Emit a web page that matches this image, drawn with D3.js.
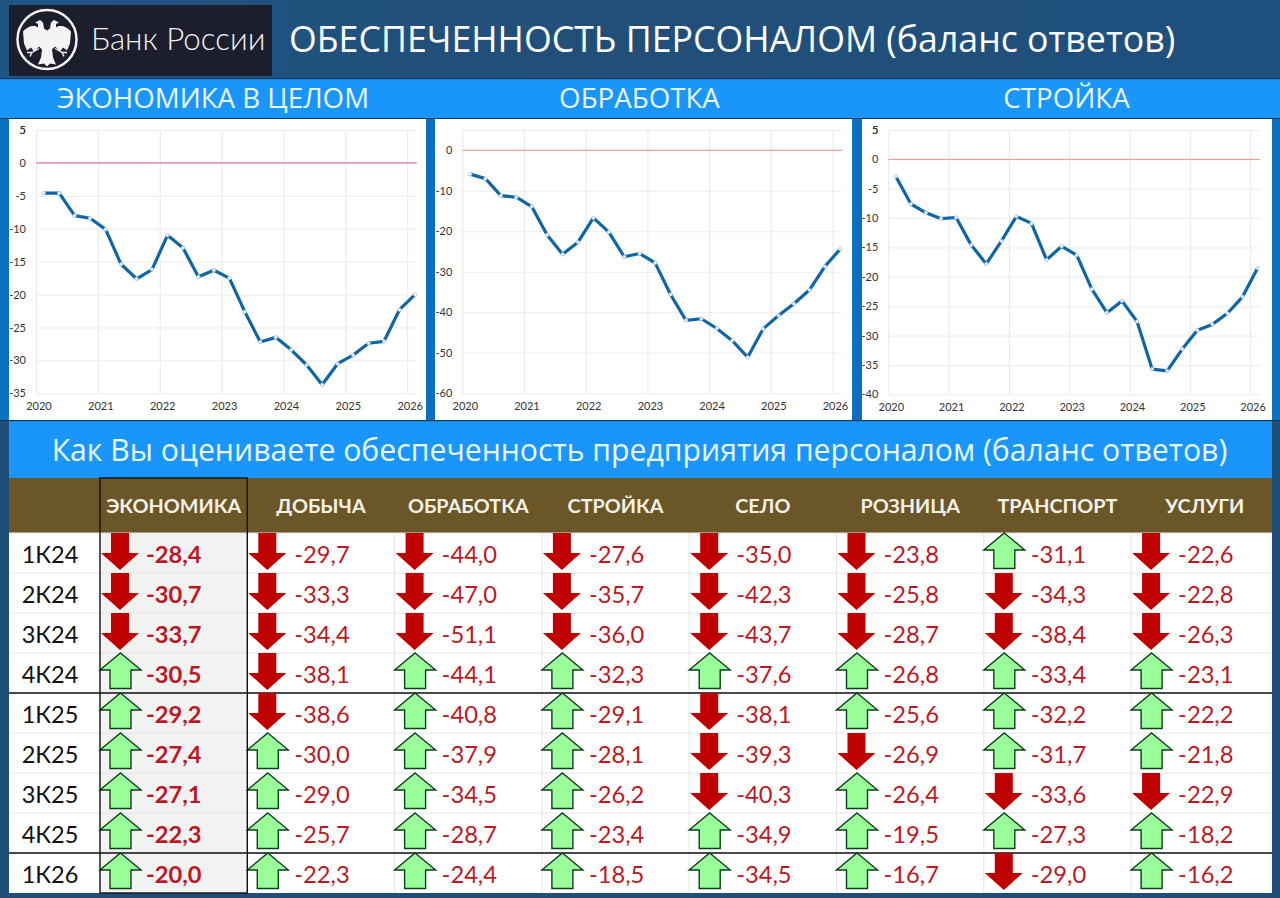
<!DOCTYPE html>
<html lang="ru">
<head>
<meta charset="utf-8">
<title>Обеспеченность персоналом</title>
<script src="https://cdn.jsdelivr.net/npm/d3@7"></script>
<style>
  html, body { margin: 0; padding: 0; background: #1f4e79; }
  svg { display: block; }
  text { font-family: Lato, "Open Sans", sans-serif; }
  .head { font-family: "Open Sans", sans-serif; }
  .tick text { font-family: Lato, sans-serif; font-size: 11px; fill: #333; }
</style>
</head>
<body>
<div id="chart"></div>
<script>
const years = [2020, 2021, 2022, 2023, 2024, 2025, 2026];

// balance of answers by quarter, 1q2020 .. 1q2026
const economyLine = [-4.6, -4.6, -8.0, -8.4, -10.1, -15.4, -17.6, -16.2, -11.0, -12.9, -17.3, -16.3, -17.5, -22.6, -27.2, -26.5, -28.4, -30.7, -33.7, -30.5, -29.2, -27.4, -27.1, -22.3, -20.0];
const manufLine = [-5.9, -7.0, -11.2, -11.6, -13.9, -20.9, -25.7, -22.7, -16.7, -20.2, -26.3, -25.5, -27.8, -35.6, -42.0, -41.6, -44.0, -47.0, -51.1, -44.1, -40.8, -37.9, -34.5, -28.7, -24.4];
const buildLine = [-2.9, -7.6, -9.1, -10.1, -9.9, -14.6, -17.8, -13.9, -9.7, -10.9, -17.1, -14.8, -16.3, -22.1, -26.1, -24.1, -27.6, -35.7, -36.0, -32.3, -29.1, -28.1, -26.2, -23.4, -18.5];

const rowLabels = ['1К24', '2К24', '3К24', '4К24', '1К25', '2К25', '3К25', '4К25', '1К26'];
const sectors = ['ЭКОНОМИКА', 'ДОБЫЧА', 'ОБРАБОТКА', 'СТРОЙКА', 'СЕЛО', 'РОЗНИЦА', 'ТРАНСПОРТ', 'УСЛУГИ'];

const economyVals = [-28.4, -30.7, -33.7, -30.5, -29.2, -27.4, -27.1, -22.3, -20.0];
const miningVals = [-29.7, -33.3, -34.4, -38.1, -38.6, -30.0, -29.0, -25.7, -22.3];
const manufVals = [-44.0, -47.0, -51.1, -44.1, -40.8, -37.9, -34.5, -28.7, -24.4];
const buildVals = [-27.6, -35.7, -36.0, -32.3, -29.1, -28.1, -26.2, -23.4, -18.5];
const farmVals = [-35.0, -42.3, -43.7, -37.6, -38.1, -39.3, -40.3, -34.9, -34.5];
const retailVals = [-23.8, -25.8, -28.7, -26.8, -25.6, -26.9, -26.4, -19.5, -16.7];
const transportVals = [-31.1, -34.3, -38.4, -33.4, -32.2, -31.7, -33.6, -27.3, -29.0];
const servicesVals = [-22.6, -22.8, -26.3, -23.1, -22.2, -21.8, -22.9, -18.2, -16.2];
const tableVals = [economyVals, miningVals, manufVals, buildVals, farmVals, retailVals, transportVals, servicesVals];

// arrow per quarter, u - up, d - down
const tableArrows = ['ddduuuuuu', 'dddddu' + 'uuu', 'ddduuuuuu', 'ddduuuuuu', 'ddduddduu', 'ddduuduuu', 'udduuudud', 'ddduuuduu'];

const svg = d3.select('#chart').append('svg').attr('width', 1280).attr('height', 898);

const defs = svg.append('defs');
const hdr = defs.append('linearGradient').attr('id', 'hdr').attr('x1', 0).attr('x2', 1).attr('y1', 0).attr('y2', 0);
hdr.append('stop').attr('offset', '0%').attr('stop-color', '#1f5484');
hdr.append('stop').attr('offset', '45%').attr('stop-color', '#214f78');
hdr.append('stop').attr('offset', '100%').attr('stop-color', '#1f4f7e');

// header
svg.append('rect').attr('width', 1280).attr('height', 898).attr('fill', '#1f4e79');
svg.append('rect').attr('width', 1280).attr('height', 78).attr('fill', 'url(#hdr)');
svg.append('rect').attr('x', 9).attr('y', 5).attr('width', 263).attr('height', 71).attr('fill', '#1c1d2d');

const logo = svg.append('g').attr('transform', 'translate(47,39.5)');
logo.append('circle').attr('r', 29.5).attr('fill', 'none').attr('stroke', '#f4f4f4').attr('stroke-width', 2.5);
[1, -1].forEach((side) => {
  const half = logo.append('g').attr('transform', `scale(${side},1)`).attr('fill', '#f4f4f4');
  half.append('path').attr('d', 'M0,-9 L-3,-11 L-4,-17 L-7,-19.5 L-12,-17 L-9,-15.5 L-9,-12 C-13,-15 -20,-13 -24,-8 L-23,4 L-20,11 L-16,8 L-13,12 L-8,7 L-5,10 L-6,18 L-9,25 L-3,24 L0,27 Z');
  half.append('path').attr('d', 'M-8,9 L-15,13 M-15,13 L-20,13 M-15,13 L-17,17').attr('stroke', '#f4f4f4').attr('stroke-width', 1.4).attr('fill', 'none');
});
svg.append('text').attr('x', 91).attr('y', 50).attr('font-size', 31.3).attr('font-weight', 300).attr('fill', '#f0f0f0').text('Банк России');
svg.append('text').attr('class', 'head').attr('x', 289).attr('y', 52).attr('font-size', 35.7).attr('fill', '#fff').text('ОБЕСПЕЧЕННОСТЬ ПЕРСОНАЛОМ (баланс ответов)');

// blue bands
svg.append('rect').attr('y', 78).attr('width', 1280).attr('height', 41).attr('fill', '#1a96fb');
svg.append('rect').attr('y', 78).attr('width', 1280).attr('height', 1.2).attr('fill', '#123a5c');
svg.append('rect').attr('y', 118).attr('width', 1280).attr('height', 1.2).attr('fill', '#123a5c');
svg.append('rect').attr('y', 119).attr('width', 1280).attr('height', 302).attr('fill', '#0b70c0');

const panels = [
  { title: 'ЭКОНОМИКА В ЦЕЛОМ', tx: 213, series: economyLine, left: 9, right: 426, x0: 36, yearW: 61.87, end: 416.7, yMax: 5, yMin: -35, step: 5, y0: 393.3, zero: '#dfa2ac', zeroW: 1.6 },
  { title: 'ОБРАБОТКА', tx: 639.5, series: manufLine, left: 435, right: 852, x0: 462.3, yearW: 61.7, end: 842.3, yMax: 5, yMin: -60, step: 10, y0: 393.3, zero: '#ec8f8b', zeroW: 1 },
  { title: 'СТРОЙКА', tx: 1066.5, series: buildLine, left: 862, right: 1272, x0: 888.3, yearW: 60.3, end: 1260, yMax: 5, yMin: -40, step: 5, y0: 394.3, zero: '#ec8f8b', zeroW: 1 }
];

panels.forEach((p) => {
  svg.append('text').attr('class', 'head').attr('x', p.tx).attr('y', 108).attr('text-anchor', 'middle')
    .attr('font-size', 27.7).attr('fill', '#eaf7ff').text(p.title);
  svg.append('rect').attr('x', p.left).attr('y', 119).attr('width', p.right - p.left).attr('height', 301).attr('fill', '#fff');

  const x = d3.scaleLinear().domain([2020, 2020 + (p.end - p.x0) / p.yearW]).range([p.x0, p.end]);
  const y = d3.scaleLinear().domain([p.yMin, p.yMax]).range([p.y0, 130]);
  const inner = p.end - p.x0;
  const ticks = d3.range(p.yMin, p.yMax + 1, p.step);

  // plain hyphen as in the source; the top line of the 10-step panel has no label
  const yAxis = svg.append('g').attr('transform', `translate(${p.x0},0)`)
    .call(d3.axisLeft(y).tickValues(ticks.concat(p.yMax)).tickSize(-inner).tickPadding(10)
      .tickFormat((d) => (ticks.includes(d) ? String(d) : '')));
  yAxis.select('.domain').remove();
  yAxis.selectAll('line').attr('stroke', '#ececec');

  const xAxis = svg.append('g').attr('transform', `translate(0,${p.y0})`)
    .call(d3.axisBottom(x).tickValues(years).tickSize(-(p.y0 - 130)).tickPadding(9).tickFormat(String));
  xAxis.select('.domain').remove();
  xAxis.selectAll('line').attr('stroke', '#e8e8e8');
  xAxis.selectAll('.tick text').attr('dx', 2.5);

  svg.append('line').attr('x1', p.x0).attr('x2', p.end).attr('y1', y(0)).attr('y2', y(0))
    .attr('stroke', p.zero).attr('stroke-width', p.zeroW);

  const tq = (i) => 2020 + (i + 0.5) / 4;
  svg.append('path').datum(p.series)
    .attr('d', d3.line().x((d, i) => x(tq(i))).y((d) => y(d)))
    .attr('fill', 'none').attr('stroke', '#0f66a6').attr('stroke-width', 3.2).attr('stroke-linejoin', 'round');
  svg.append('g').selectAll('circle').data(p.series).join('circle')
    .attr('cx', (d, i) => x(tq(i))).attr('cy', (d) => y(d)).attr('r', 1.8)
    .attr('fill', '#eef4fa').attr('stroke', '#9fc0da').attr('stroke-width', 0.6);
});

// table
svg.append('rect').attr('x', 9).attr('y', 420).attr('width', 1263).attr('height', 58).attr('fill', '#1a96fb');
svg.append('rect').attr('y', 420).attr('width', 1280).attr('height', 1.2).attr('fill', '#123a5c');
svg.append('text').attr('class', 'head').attr('x', 639.5).attr('y', 461).attr('text-anchor', 'middle')
  .attr('font-size', 30.2).attr('fill', '#eaf7ff').text('Как Вы оцениваете обеспеченность предприятия персоналом (баланс ответов)');

const xCol = d3.scaleBand().domain(sectors).range([100, 100 + 147.3 * sectors.length]);
const yRow = d3.scaleBand().domain(rowLabels).range([533, 893]);
const tableRight = 1272;

svg.append('rect').attr('x', 9).attr('y', 478).attr('width', tableRight - 9).attr('height', 55).attr('fill', '#6b5628');
svg.append('rect').attr('x', 9).attr('y', 533).attr('width', tableRight - 9).attr('height', 360).attr('fill', '#fff');
svg.append('rect').attr('x', xCol(sectors[0])).attr('y', 533).attr('width', xCol.bandwidth()).attr('height', 360).attr('fill', '#f2f2f2');

// thin grid
svg.append('g').selectAll('line').data(rowLabels).join('line')
  .attr('x1', 9).attr('x2', tableRight).attr('y1', (d) => yRow(d)).attr('y2', (d) => yRow(d))
  .attr('stroke', '#e4e4e4');
svg.append('g').selectAll('line').data(sectors.slice(2)).join('line')
  .attr('x1', (d) => xCol(d)).attr('x2', (d) => xCol(d)).attr('y1', 533).attr('y2', 893)
  .attr('stroke', '#e4e4e4');

svg.append('g').selectAll('text').data(sectors).join('text')
  .attr('x', (d) => xCol(d) + xCol.bandwidth() / 2).attr('y', 513).attr('text-anchor', 'middle')
  .attr('font-size', 19.8).attr('font-weight', 700).attr('fill', '#f6f1e6').text((d) => d);

svg.append('g').selectAll('text').data(rowLabels).join('text')
  .attr('x', 50).attr('y', (d) => yRow(d) + 29.5).attr('text-anchor', 'middle')
  .attr('font-size', 23.5).attr('fill', '#111').text((d) => d);

// black separators
['1К25', '1К26'].forEach((r) => {
  svg.append('line').attr('x1', 9).attr('x2', tableRight).attr('y1', yRow(r)).attr('y2', yRow(r))
    .attr('stroke', '#111').attr('stroke-width', 1.4);
});
const downArrow = 'M11,0 L29,0 L29,20 L39,20 L20,37 L1,20 L11,20 Z';
const upArrow = 'M20.5,0 L41,17 L31,17 L31,35.5 L10,35.5 L10,17 L0,17 Z';

const cells = sectors.flatMap((s, c) => rowLabels.map((r, i) => ({ s, r, v: tableVals[c][i], dir: tableArrows[c][i], c })));

svg.append('g').selectAll('path').data(cells).join('path')
  .attr('transform', (d) => `translate(${xCol(d.s)},${yRow(d.r)})`)
  .attr('d', (d) => (d.dir === 'u' ? upArrow : downArrow))
  .attr('fill', (d) => (d.dir === 'u' ? '#99ff99' : '#c00000'))
  .attr('stroke', (d) => (d.dir === 'u' ? '#0f3d1f' : 'none'))
  .attr('stroke-width', 1.4);

const fmt = (v) => v.toFixed(1).replace('.', ',');
svg.append('g').selectAll('text').data(cells).join('text')
  .attr('x', (d) => xCol(d.s) + (d.c === 0 ? 46 : 47)).attr('y', (d) => yRow(d.r) + 29.5)
  .attr('font-size', 23.7).attr('font-weight', (d) => (d.c === 0 ? 700 : 400))
  .attr('fill', '#bd1822').text((d) => fmt(d.v));

// black box round the economy column
svg.append('rect').attr('x', xCol(sectors[0])).attr('y', 478).attr('width', xCol.bandwidth()).attr('height', 415)
  .attr('fill', 'none').attr('stroke', '#111').attr('stroke-width', 1.4);
</script>
</body>
</html>
